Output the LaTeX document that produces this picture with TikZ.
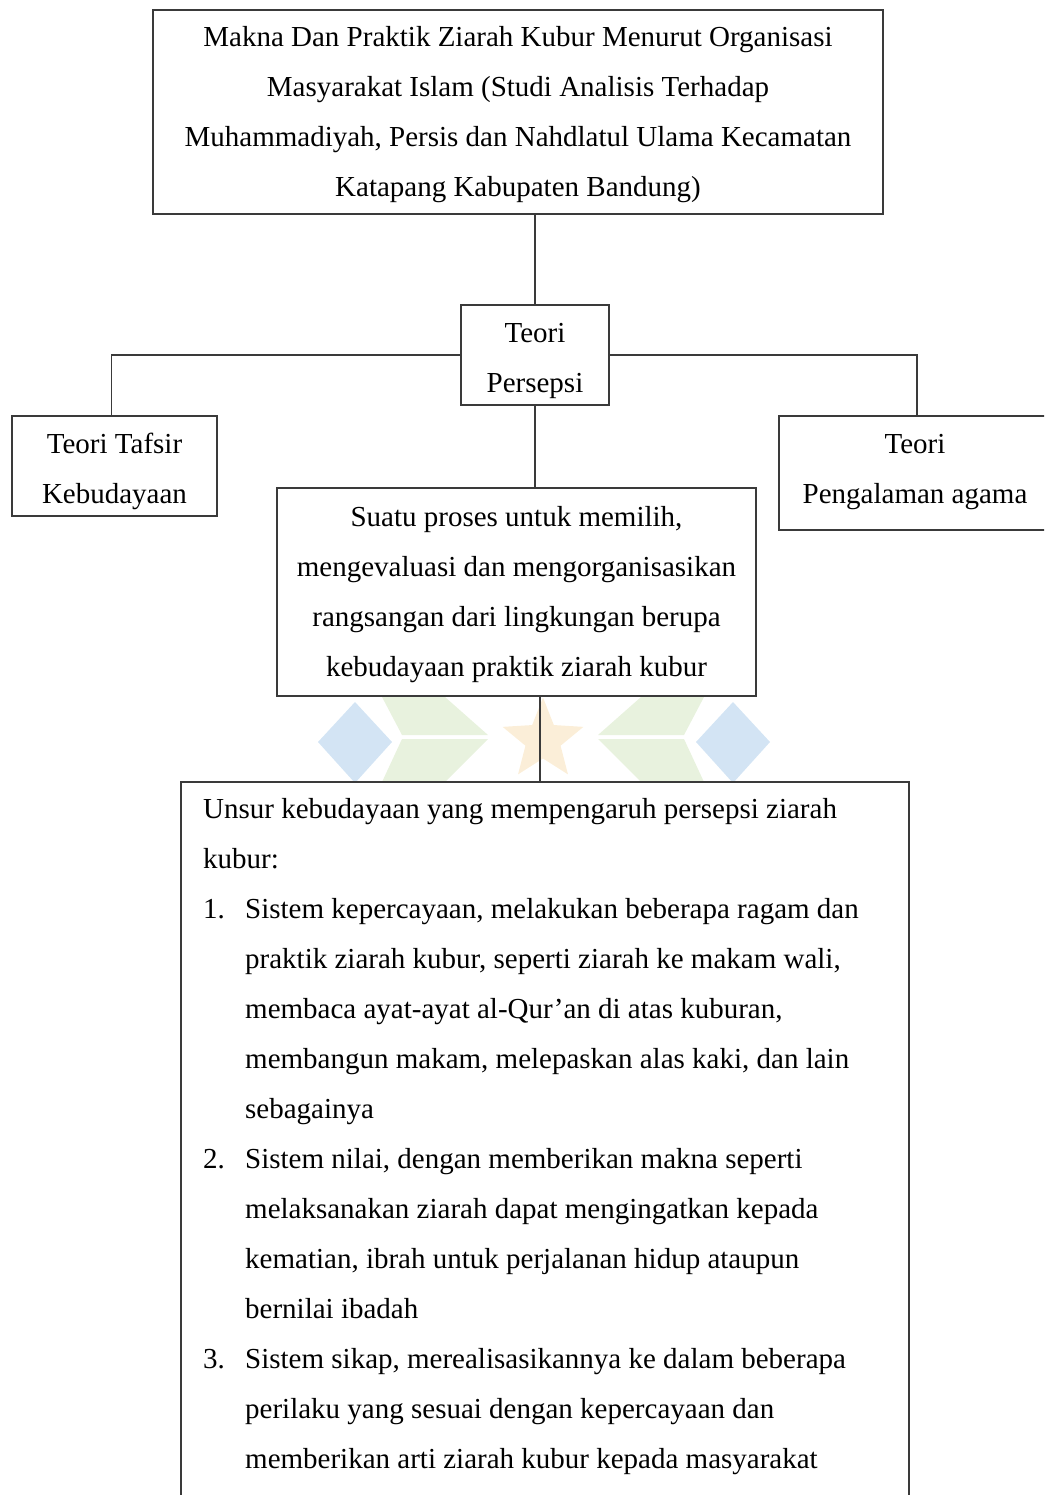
\documentclass[tikz,border=0pt]{standalone}
\usepackage{fontspec}
\setmainfont{Liberation Serif}
\usepackage{xcolor}
\usetikzlibrary{positioning,shapes.geometric,calc}
\definecolor{wmblue}{HTML}{D3E4F4}
\definecolor{wmgreen}{HTML}{E8F2DE}
\definecolor{wmstar}{HTML}{FBEED8}
\definecolor{boxline}{HTML}{3A3A3A}
\newcommand{\txtfont}{\fontsize{29}{50}\selectfont}
\newcommand{\atas}{\rule{0pt}{35pt}}
\newcommand{\bawah}[1][15pt]{\rule[-#1]{0pt}{1pt}}
\tikzset{
  kotak/.style={draw=boxline, line width=1.6pt, fill=white, align=center, inner sep=0pt, font=\txtfont},
  garis/.style={draw=boxline, line width=1.6pt}
}

\begin{document}
\begin{tikzpicture}[x=1pt,y=-1pt]
  \clip (0,0) rectangle (1044,1495);
  \useasboundingbox (0,0) rectangle (1044,1495);

  % faint logo behind the boxes
  \fill[wmblue] (355,702) -- (392,742) -- (355,783) -- (318,742) -- cycle;
  \fill[wmblue] (733,702) -- (770,742) -- (733,783) -- (696,742) -- cycle;
  \fill[wmgreen] (382,697) -- (445,697) -- (488,735) -- (402,735) -- cycle;
  \fill[wmgreen] (402,739) -- (488,739) -- (445,782) -- (382,782) -- cycle;
  \fill[wmgreen] (704,697) -- (641,697) -- (598,735) -- (684,735) -- cycle;
  \fill[wmgreen] (684,739) -- (598,739) -- (641,782) -- (704,782) -- cycle;
  \node[star, star points=5, star point ratio=2.3, fill=wmstar, minimum size=85pt, inner sep=0pt] (bintang) at (543,740) {};

  \node[kotak, minimum width=730, minimum height=204] (judul) at (518,112)
    {\atas Makna Dan Praktik Ziarah Kubur Menurut Organisasi\\
     Masyarakat Islam (Studi Analisis Terhadap\\
     Muhammadiyah, Persis dan Nahdlatul Ulama Kecamatan\\
     Katapang Kabupaten Bandung)\bawah};

  \node[kotak, minimum width=148, minimum height=100] (persepsi) at (535,355)
    {\atas Teori\\Persepsi\bawah[11pt]};

  \node[kotak, minimum width=205, minimum height=100] (tafsir) at (114.5,466)
    {\atas Teori Tafsir\\Kebudayaan\bawah[11pt]};

  \node[kotak, minimum width=272, minimum height=114] (pengalaman) at (915,473)
    {\atas Teori\\Pengalaman agama\bawah[25pt]};

  \node[kotak, minimum width=479, minimum height=208] (proses) at (516.5,592)
    {\atas Suatu proses untuk memilih,\\
     mengevaluasi dan mengorganisasikan\\
     rangsangan dari lingkungan berupa\\
     kebudayaan praktik ziarah kubur\bawah[17pt]};

  \node[draw=boxline, line width=1.6pt, fill=white, anchor=north west, minimum width=728, minimum height=780] (unsur) at (180,781) {};
  \node[anchor=north west, align=left, inner sep=0pt, font=\txtfont] (unsurisi) at (203,783)
    {\strut Unsur kebudayaan yang mempengaruh persepsi ziarah\\
     kubur:\\
     \makebox[42pt][l]{1.}Sistem kepercayaan, melakukan beberapa ragam dan\\
     \hspace*{42pt}praktik ziarah kubur, seperti ziarah ke makam wali,\\
     \hspace*{42pt}membaca ayat-ayat al-Qur’an di atas kuburan,\\
     \hspace*{42pt}membangun makam, melepaskan alas kaki, dan lain\\
     \hspace*{42pt}sebagainya\\
     \makebox[42pt][l]{2.}Sistem nilai, dengan memberikan makna seperti\\
     \hspace*{42pt}melaksanakan ziarah dapat mengingatkan kepada\\
     \hspace*{42pt}kematian, ibrah untuk perjalanan hidup ataupun\\
     \hspace*{42pt}bernilai ibadah\\
     \makebox[42pt][l]{3.}Sistem sikap, merealisasikannya ke dalam beberapa\\
     \hspace*{42pt}perilaku yang sesuai dengan kepercayaan dan\\
     \hspace*{42pt}memberikan arti ziarah kubur kepada masyarakat};

  % connectors
  \draw[garis] (judul.south -| persepsi.north) -- (persepsi.north);
  \draw[garis] (persepsi.west) -| ([xshift=-3pt]tafsir.north);
  \draw[garis] (persepsi.east) -| ([xshift=2pt]pengalaman.north);
  \draw[garis] (persepsi.south) -- (proses.north -| persepsi.south);
  \draw[garis] ([xshift=5pt]proses.south -| persepsi.south) -- ([xshift=5pt]unsur.north -| persepsi.south);
\end{tikzpicture}
\end{document}
